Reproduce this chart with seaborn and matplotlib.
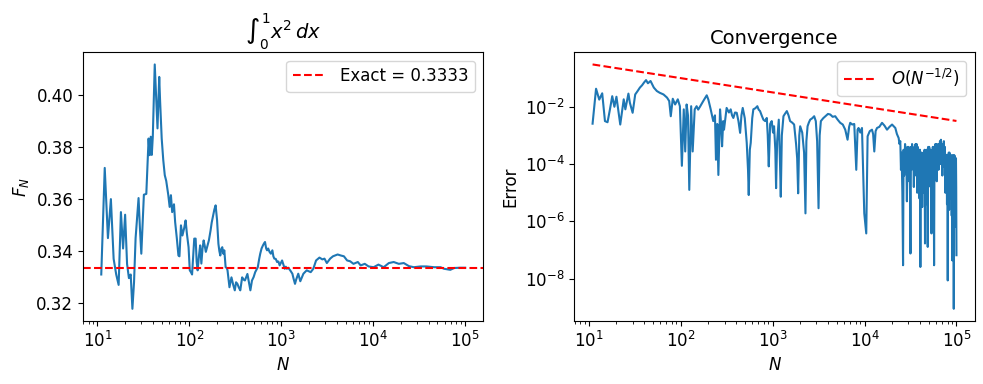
import numpy as np
import matplotlib
matplotlib.use("Agg")
import matplotlib.pyplot as plt
import seaborn as sns

# running estimate F_N of the integral (left panel)
n_vals = [
    11, 12, 13, 14, 15, 16, 17, 18, 19, 20,
    21, 22, 23, 24, 25, 26, 28, 29, 30, 32,
    34, 36, 37, 38, 39, 40, 41, 42, 44, 45,
    47, 48, 50, 52, 54, 56, 59, 61, 63, 65,
    68, 70, 73, 76, 78, 81, 84, 88, 91, 94,
    98, 101, 104, 107, 110, 113, 117, 120, 123, 127,
    131, 135, 139, 143, 147, 151, 157, 163, 170, 175,
    180, 187, 193, 200, 207, 212, 217, 223, 228, 234,
    240, 248, 255, 260, 267, 273, 280, 287, 300, 312,
    322, 333, 345, 358, 375, 390, 402, 415, 428, 445,
    461, 480, 500, 520, 540, 555, 575, 590, 610, 632,
    650, 665, 685, 700, 720, 745, 770, 800, 820, 840,
    870, 900, 930, 960, 990, 1020, 1050, 1090, 1120, 1150,
    1190, 1250, 1320, 1360, 1410, 1450, 1530, 1610, 1740, 1890,
    2090, 2230, 2390, 2600, 2800, 2950, 3130, 3400, 3650, 4100,
    4450, 4800, 5200, 5600, 6100, 6800, 7300, 8100, 8900, 10100,
    11400, 13000, 14800, 16700, 19000, 21500, 24500, 27700, 32700, 38000,
    46000, 54000, 59000, 69000, 76000, 89000, 100000,
]
f_vals = [
    0.331, 0.372, 0.345, 0.360, 0.337, 0.331, 0.327, 0.355, 0.341, 0.354,
    0.335, 0.3296, 0.331, 0.3178, 0.328, 0.345, 0.3604, 0.3486, 0.339, 0.3617,
    0.362, 0.3833, 0.3769, 0.384, 0.377, 0.384, 0.398, 0.4118, 0.395, 0.3872,
    0.407, 0.398, 0.3833, 0.375, 0.3692, 0.367, 0.3615, 0.357, 0.3615, 0.355,
    0.358, 0.3512, 0.345, 0.3383, 0.338, 0.3499, 0.346, 0.349, 0.3518, 0.3467,
    0.3415, 0.3326, 0.3319, 0.331, 0.338, 0.3448, 0.3448, 0.336, 0.3326, 0.338,
    0.3422, 0.3352, 0.341, 0.3441, 0.342, 0.3397, 0.342, 0.3441, 0.3479, 0.351,
    0.3531, 0.356, 0.3576, 0.352, 0.3428, 0.340, 0.3383, 0.341, 0.3415, 0.339,
    0.3403, 0.3338, 0.3335, 0.3326, 0.329, 0.3261, 0.328, 0.3299, 0.327, 0.3249,
    0.328, 0.3274, 0.326, 0.3249, 0.3299, 0.329, 0.3287, 0.330, 0.3312, 0.328,
    0.3249, 0.3287, 0.330, 0.3319, 0.333, 0.3338, 0.337, 0.339, 0.341, 0.3422,
    0.343, 0.3435, 0.341, 0.3403, 0.341, 0.3397, 0.339, 0.3403, 0.338, 0.3371,
    0.337, 0.3358, 0.336, 0.3345, 0.3355, 0.3364, 0.335, 0.3332, 0.334, 0.3332,
    0.3336, 0.3326, 0.3313, 0.3294, 0.3274, 0.329, 0.3313, 0.3284, 0.3313, 0.3326,
    0.3319, 0.3332, 0.3364, 0.3375, 0.3368, 0.3371, 0.3354, 0.3371, 0.338, 0.3387,
    0.3383, 0.338, 0.3364, 0.3361, 0.3351, 0.3358, 0.3345, 0.3351, 0.3341, 0.3338,
    0.3348, 0.3338, 0.3354, 0.3358, 0.3351, 0.3354, 0.3342, 0.3338, 0.3341, 0.3341,
    0.3338, 0.3338, 0.3332, 0.3328, 0.3335, 0.3336, 0.3336,
]
exact_value = 1 / 3

# absolute error (right panel), stored as log10 of the error
err_n = [
    11, 12, 13, 14, 15, 16, 17, 18, 19, 20,
    21, 22, 24, 25, 27, 28, 30, 32, 34, 36,
    38, 40, 42, 44, 47, 51, 55, 59, 65, 71,
    75, 78, 82, 87, 93, 98, 103, 108, 112, 116,
    120, 124, 130, 135, 142, 149, 155, 162, 176, 192,
    200, 212, 226, 236, 242, 250, 257, 268, 275, 282,
    290, 296, 316, 335, 350, 362, 374, 390, 407, 425,
    443, 458, 473, 498, 523, 540, 550, 565, 578, 600,
    617, 650, 682, 705, 730, 760, 794, 830, 864, 885,
    908, 940, 978, 1010, 1037, 1070, 1091, 1120, 1167, 1200,
    1227, 1260, 1312, 1360, 1428, 1490, 1550, 1630, 1714, 1800,
    1850, 1896, 1950, 1995, 2100, 2200, 2277, 2330, 2400, 2480,
    2563, 2700, 2833, 2950, 3050, 3160, 3250, 3350, 3550, 3760,
    4000, 4240, 4500, 4800, 5100, 5440, 5800, 6170, 6535, 6800,
    6990, 7350, 7730, 8130, 8400, 8610, 9000, 9380, 9935, 10440,
    10800, 11400, 12050, 12400, 12770, 13200, 13670, 14500, 15500, 16500,
    17570, 18700, 19930, 20800, 21630, 22500, 23500, 24000,
]
err_log10 = [
    -2.59, -1.37, -1.75, -1.53, -2.50, -2.54, -2.09, -1.63, -2.00, -1.65,
    -2.15, -2.62, -1.74, -2.09, -1.54, -1.86, -2.21, -1.57, -1.45, -1.33,
    -1.25, -1.15, -1.07, -1.18, -1.10, -1.33, -1.45, -1.51, -1.57, -1.68,
    -1.80, -2.33, -1.72, -1.92, -1.74, -1.98, -4.06, -2.09, -3.56, -1.92,
    -2.30, -4.90, -1.98, -3.56, -2.09, -1.98, -2.10, -2.00, -1.80, -1.60,
    -1.75, -2.09, -2.50, -2.30, -3.85, -2.60, -4.38, -2.09, -2.60, -3.38,
    -2.50, -2.80, -2.04, -2.20, -2.09, -2.30, -2.39, -2.20, -2.21, -2.50,
    -2.91, -2.30, -2.04, -2.40, -3.26, -4.20, -5.08, -3.50, -3.26, -2.40,
    -2.09, -2.05, -1.98, -2.10, -2.15, -2.30, -2.45, -2.50, -2.39, -3.00,
    -4.08, -2.60, -2.50, -2.90, -2.68, -3.50, -4.84, -3.20, -2.45, -3.80,
    -5.14, -3.00, -2.33, -2.25, -2.15, -2.30, -2.50, -2.55, -2.62, -3.30,
    -3.80, -5.02, -3.00, -2.68, -2.90, -3.60, -5.72, -3.20, -2.68, -2.55,
    -2.45, -2.40, -2.33, -2.50, -3.20, -5.54, -3.00, -2.50, -2.40, -2.33,
    -2.25, -2.27, -2.35, -2.33, -2.45, -2.56, -2.62, -2.80, -3.15, -2.70,
    -2.56, -2.62, -2.60, -4.20, -2.80, -2.74, -2.90, -2.74, -5.72, -6.42,
    -3.03, -2.85, -2.80, -2.95, -3.56, -2.85, -2.74, -2.70, -2.56, -2.66,
    -2.80, -2.70, -2.62, -2.68, -2.74, -2.95, -3.09, -3.30,
]

# the densely oscillating tail (N > 2.4e4), same units as above
tail_n = [
    24500, 24900, 25300, 25800, 26250, 26600, 27000, 27600, 28000, 28400,
    28900, 29300, 29700, 30200, 30600, 31000, 31600, 32000, 32500, 32900,
    33400, 33900, 34400, 34900, 35400, 35900, 36400, 36900, 37400, 37900,
    38500, 39000, 39600, 40100, 40500, 40900, 41400, 41900, 42400, 42900,
    43500, 44000, 44500, 45000, 45500, 46000, 46600, 47100, 47700, 48200,
    48700, 49300, 49900, 50500, 51100, 51700, 52300, 52900, 53500, 54100,
    54700, 55300, 55900, 56500, 57100, 57700, 58300, 58900, 59600, 60300,
    61000, 61700, 62400, 63100, 63800, 64600, 65400, 66200, 67000, 67800,
    68600, 69400, 70300, 71200, 72100, 73000, 73900, 74800, 75700, 76500,
    77300, 78100, 78900, 79700, 80400, 81100, 81800, 82500, 83200, 83900,
    84600, 85300, 86000, 86700, 87400, 88100, 88800, 89500, 90000, 90600,
    91200, 91800, 92400, 93000, 93500, 94000, 94600, 95200, 95800, 96400,
    97000, 97600, 98200, 98800, 99400, 100000,
]
tail_log10 = [
    -3.2, -4.2, -3.6, -5.0, -7.53, -3.5, -4.4, -3.3, -3.6, -3.5,
    -5.3, -3.4, -3.8, -3.4, -4.6, -3.5, -7.12, -3.4, -4.2, -3.3,
    -3.6, -3.5, -4.8, -3.4, -3.7, -3.3, -4.4, -3.3, -5.0, -3.4,
    -3.7, -3.5, -5.2, -3.5, -7.59, -3.6, -4.5, -3.6, -5.5, -3.7,
    -3.8, -3.6, -5.0, -3.5, -6.77, -3.6, -4.6, -3.5, -5.4, -3.5,
    -6.89, -3.4, -4.4, -3.4, -3.7, -3.5, -4.8, -3.5, -6.42, -3.6,
    -4.5, -3.4, -3.7, -3.4, -7.53, -3.5, -4.3, -3.3, -3.6, -3.3,
    -4.6, -3.5, -3.6, -3.3, -4.2, -3.3, -3.5, -3.2, -4.0, -3.15,
    -3.5, -3.3, -4.4, -3.3, -3.5, -3.2, -4.1, -3.4, -5.0, -3.67,
    -4.6, -3.7, -5.4, -3.7, -8.06, -3.7, -4.8, -3.6, -5.6, -3.6,
    -4.5, -3.7, -5.2, -3.73, -4.4, -3.7, -5.8, -3.7, -7.36, -3.7,
    -4.8, -3.8, -5.5, -3.7, -9.05, -3.7, -5.0, -3.7, -6.2, -3.8,
    -4.6, -3.8, -5.9, -3.8, -4.8, -7.18,
]

# O(N^-1/2) guide line end points
ref_n = [11, 100000]
ref_err = [0.30, 0.0032]

plt.rcParams['font.size'] = 12
blue = '#1f77b4'

fig, (ax1, ax2) = plt.subplots(1, 2, figsize=(9.83, 3.84), dpi=100)
fig.subplots_adjust(left=0.0845, right=0.9915, bottom=0.164, top=0.864,
                    wspace=0.2275)

# left: running estimate
sns.lineplot(x=n_vals, y=f_vals, ax=ax1, color=blue, linewidth=1.5)
ax1.axhline(exact_value, color='r', linestyle='--', linewidth=1.5,
            label=f'Exact = {exact_value:.4f}')
ax1.set_xscale('log')
ax1.set_xlabel('$N$')
ax1.set_ylabel('$F_N$')
ax1.set_title(r'$\int_0^1 x^2\,dx$', fontsize=14)
ax1.legend(loc='upper right')

# right: error convergence
all_n = err_n + tail_n
all_err = 10 ** np.array(err_log10 + tail_log10)
sns.lineplot(x=all_n, y=all_err, ax=ax2, color=blue, linewidth=1.5)
sns.lineplot(x=ref_n, y=ref_err, ax=ax2, color='r', linestyle='--',
             linewidth=1.5, label=r'$O(N^{-1/2})$')
ax2.set_xscale('log')
ax2.set_yscale('log')
ax2.set_xlabel('$N$')
ax2.set_ylabel('Error')
ax2.set_title('Convergence', fontsize=14)
ax2.legend(loc='upper right')

plt.savefig('out.png', dpi=100)
plt.close()
